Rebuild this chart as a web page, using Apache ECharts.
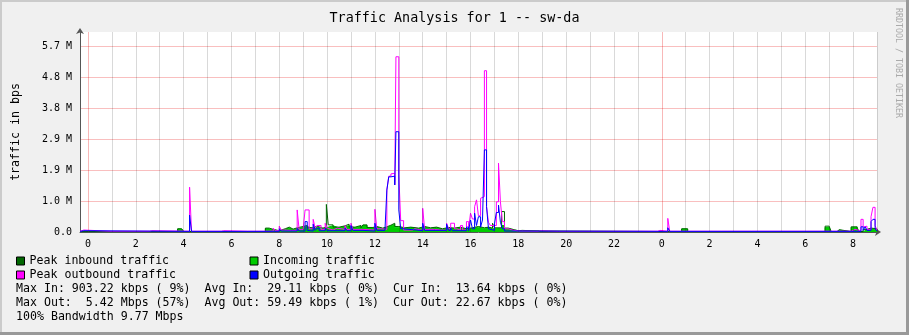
<!DOCTYPE html>
<html><head><meta charset="utf-8">
<script src="https://cdn.jsdelivr.net/npm/echarts@6/dist/echarts.min.js"></script>
<style>html,body{margin:0;padding:0;background:#f0f0f0;overflow:hidden}#c{width:909px;height:335px}</style>
</head><body><div id="c"></div>
<script>
// ---------- text ----------
const titleText = 'Traffic Analysis for 1 -- sw-da';
const yAxisTitle = 'traffic in bps';
const watermark = 'RRDTOOL / TOBI OETIKER';
const legendNames = ['Peak inbound traffic', 'Incoming traffic', 'Peak outbound traffic', 'Outgoing traffic'];
const statLines = [
  'Max In: 903.22 kbps ( 9%)  Avg In:  29.11 kbps ( 0%)  Cur In:  13.64 kbps ( 0%)',
  'Max Out:  5.42 Mbps (57%)  Avg Out: 59.49 kbps ( 1%)  Cur Out: 22.67 kbps ( 0%)',
  '100% Bandwidth 9.77 Mbps'
];
// ---------- axes ----------
const xStart = -1 / 3;          // hours
const xEnd = 33;
const xLabelHours = [0, 2, 4, 6, 8, 10, 12, 14, 16, 18, 20, 22, 24, 26, 28, 30, 32];
const gridHours = [0,1,2,3,4,5,6,7,8,9,10,11,12,13,14,15,16,17,18,19,20,21,22,23,24,25,26,27,28,29,30,31,32,33];
const majorHours = [0, 24];
const yStep = 0.953674;         // M bps
const yMax = 6.163;
// ---------- series (hour, Mbps) ----------
const incoming = [
 [-0.33,0.01],[3.75,0.09],[3.92,0.06],[4.0,0.01],
 [7.42,0.1],[7.58,0.07],[7.75,0.03],[8.0,0.08],[8.25,0.13],[8.42,0.07],[8.58,0.11],[8.75,0.14],[9.0,0.17],[9.17,0.11],[9.42,0.15],[9.58,0.1],[9.83,0.14],[10.0,0.19],[10.25,0.13],[10.5,0.17],[10.75,0.11],[10.83,0.19],[10.92,0.13],[11.17,0.18],[11.42,0.11],[11.5,0.2],[11.67,0.12],[11.92,0.15],[12.08,0.1],[12.33,0.14],[12.5,0.19],[12.67,0.24],[12.83,0.15],[13.0,0.11],[13.25,0.14],[13.5,0.1],[13.83,0.15],[14.08,0.11],[14.33,0.14],[14.58,0.08],[14.83,0.12],[15.08,0.1],[15.33,0.14],[15.58,0.08],[15.83,0.11],[16.08,0.15],[16.33,0.11],[16.58,0.14],[16.75,0.1],[16.92,0.16],[17.0,0.11],[17.3,0.2],[17.42,0.1],[17.58,0.06],[17.83,0.03],[18.0,0.04],[18.17,0.01],
 [24.83,0.09],[25.08,0.01],
 [30.83,0.14],[31.0,0.09],[31.08,0.01],
 [31.33,0.06],[31.42,0.01],
 [31.92,0.14],[32.17,0.08],[32.25,0.01],
 [32.42,0.07],[32.58,0.1],[32.75,0.05],[32.83,0.08],[33,0.02]
];
const peakIn = [
 [-0.33,0.015],[3.75,0.1],[3.92,0.07],[4.0,0.015],
 [7.42,0.12],[7.58,0.08],[7.75,0.04],[8.0,0.1],[8.25,0.15],[8.42,0.09],[8.58,0.13],[8.75,0.17],[9.0,0.2],[9.17,0.13],[9.42,0.18],[9.58,0.12],[9.83,0.16],[9.97,0.85],[10.05,0.22],[10.25,0.15],[10.5,0.19],[10.75,0.13],[10.83,0.24],[10.92,0.15],[11.17,0.2],[11.42,0.13],[11.5,0.22],[11.67,0.14],[11.92,0.17],[12.08,0.12],[12.33,0.16],[12.5,0.21],[12.67,0.27],[12.83,0.17],[13.0,0.13],[13.25,0.15],[13.5,0.12],[13.83,0.17],[14.08,0.13],[14.33,0.15],[14.58,0.1],[14.83,0.14],[15.08,0.12],[15.33,0.15],[15.58,0.1],[15.83,0.13],[16.08,0.17],[16.33,0.13],[16.58,0.15],[16.75,0.12],[16.92,0.27],[17.0,0.13],[17.3,0.63],[17.42,0.12],[17.58,0.07],[17.83,0.04],[18.0,0.05],[18.17,0.015],
 [19.25,0.05],[19.33,0.015],
 [21.0,0.03],[21.08,0.015],
 [24.83,0.1],[25.08,0.015],
 [26.5,0.03],[26.58,0.015],
 [28.5,0.03],[28.58,0.015],
 [29.42,0.04],[29.5,0.015],
 [30.83,0.18],[31.0,0.12],[31.08,0.015],
 [31.33,0.07],[31.42,0.015],
 [31.92,0.16],[32.17,0.09],[32.25,0.015],
 [32.42,0.08],[32.58,0.12],[32.75,0.06],[32.83,0.1],[33,0.03]
];
const peakOut = [
 [-0.33,0.025],[-0.25,0.06],[-0.17,0.025],
 [0.92,0.07],[1.0,0.025],
 [2.58,0.04],[2.67,0.025],
 [4.25,1.38],[4.33,0.025],
 [5.58,0.04],[5.67,0.025],
 [6.67,0.04],[6.75,0.025],
 [7.5,0.05],[7.58,0.03],
 [7.75,0.12],[7.83,0.04],
 [8.0,0.18],[8.08,0.06],[8.17,0.1],[8.25,0.05],
 [8.5,0.08],[8.58,0.05],
 [8.75,0.68],[8.83,0.08],
 [9.0,0.1],[9.08,0.68],[9.25,0.1],
 [9.42,0.39],[9.5,0.12],[9.58,0.2],[9.75,0.08],
 [9.92,0.27],[10.0,0.12],[10.08,0.06],
 [10.25,0.12],[10.42,0.08],
 [10.75,0.2],[10.83,0.08],
 [11.0,0.27],[11.08,0.08],
 [11.5,0.12],[11.58,0.06],
 [12.0,0.7],[12.08,0.1],
 [12.25,0.15],[12.33,0.08],
 [12.5,1.3],[12.58,1.72],[12.67,1.79],[12.75,1.81],[12.83,1.45],
 [12.88,5.40],[13.0,1.76],[13.08,0.35],[13.2,0.06],
 [13.58,0.1],[13.67,0.05],
 [14.0,0.73],[14.08,0.08],
 [14.5,0.06],[14.75,0.1],[14.83,0.05],
 [15.0,0.27],[15.08,0.1],[15.17,0.27],[15.33,0.1],[15.42,0.06],
 [15.58,0.2],[15.67,0.06],
 [15.83,0.32],[15.92,0.1],
 [16.0,0.58],[16.08,0.4],[16.17,0.78],[16.25,0.99],[16.33,0.5],[16.42,1.04],[16.5,1.09],[16.58,4.97],[16.67,0.78],[16.75,0.3],[16.83,0.2],
 [17.08,0.93],[17.17,2.12],[17.25,0.93],[17.33,0.32],[17.42,0.1],[17.58,0.06],[17.75,0.03],
 [18.0,0.05],[18.08,0.025],
 [18.83,0.04],[18.92,0.025],
 [19.67,0.04],[19.75,0.025],
 [20.5,0.04],[20.58,0.025],
 [21.5,0.04],[21.58,0.025],
 [23.83,0.05],[23.92,0.025],
 [24.25,0.42],[24.33,0.025],
 [24.75,0.04],[24.83,0.025],
 [25.67,0.04],[25.75,0.025],
 [26.5,0.04],[26.58,0.025],
 [27.75,0.04],[27.83,0.025],
 [29.0,0.04],[29.08,0.025],
 [30.0,0.04],[30.08,0.025],
 [31.0,0.05],[31.08,0.025],
 [31.92,0.08],[32.08,0.04],
 [32.33,0.39],[32.42,0.15],[32.5,0.18],[32.58,0.08],[32.75,0.47],[32.83,0.76],[32.92,0.2],[33,0.05]
];
const outgoing = [
 [-0.33,0.02],[-0.25,0.04],[-0.17,0.02],
 [4.25,0.52],[4.33,0.02],
 [7.75,0.05],[7.83,0.02],[8.0,0.1],[8.08,0.03],[8.17,0.06],[8.25,0.03],
 [8.75,0.11],[8.83,0.03],[9.08,0.32],[9.17,0.05],[9.25,0.03],
 [9.42,0.24],[9.5,0.05],[9.58,0.12],[9.67,0.04],
 [9.92,0.12],[10.0,0.04],
 [10.75,0.12],[10.83,0.04],[11.0,0.2],[11.08,0.05],[11.5,0.08],[11.58,0.03],
 [12.0,0.27],[12.08,0.05],
 [12.42,0.1],[12.5,1.29],[12.58,1.7],[12.67,1.75],[12.75,1.72],[12.83,1.45],[12.88,3.09],[13.0,0.68],[13.08,0.1],[13.17,0.04],
 [14.0,0.27],[14.08,0.05],
 [15.0,0.24],[15.08,0.05],[15.17,0.12],[15.25,0.04],
 [15.83,0.15],[15.92,0.04],
 [16.0,0.37],[16.08,0.1],[16.17,0.58],[16.25,0.2],[16.33,0.47],[16.42,0.15],[16.5,0.37],[16.58,2.53],[16.67,0.78],[16.75,0.1],[16.83,0.05],
 [17.0,0.25],[17.08,0.6],[17.17,0.83],[17.25,0.3],[17.33,0.1],[17.42,0.03],
 [17.67,0.05],[17.75,0.02],
 [24.25,0.13],[24.33,0.02],
 [32.33,0.16],[32.42,0.05],[32.5,0.16],[32.58,0.05],[32.75,0.32],[32.83,0.39],[32.92,0.1],[33,0.03]
];

const MONO = 'DejaVu Sans Mono';
const chart = echarts.init(document.getElementById('c'), null, {renderer: 'canvas'});

function lineSeries(name, data, color, z, area) {
  return {
    name, type: 'line', data, step: 'end', symbol: 'none', z, color,
    lineStyle: {color, width: 1}, areaStyle: area ? {color, opacity: 1} : undefined,
    animation: false, silent: true
  };
}

chart.setOption({
  backgroundColor: '#f0f0f0',
  animation: false,
  title: {text: titleText, left: 'center', top: 7,
    textStyle: {fontFamily: MONO, fontSize: 13.4, fontWeight: 'normal', color: '#000'}},
  grid: {left: 80, right: 32, top: 32, bottom: 103, show: true, backgroundColor: '#fff', borderWidth: 0},
  legend: {
    data: legendNames, left: 16, top: 254, width: 480, padding: 0, itemGap: 0,
    itemWidth: 8, itemHeight: 8, icon: 'rect', selectedMode: false,
    itemStyle: {borderColor: '#000', borderWidth: 1},
    textStyle: {fontFamily: MONO, fontSize: 11.6, color: '#000', width: 220, lineHeight: 14}
  },
  xAxis: {
    type: 'value', min: xStart, max: xEnd,
    axisLine: {show: true, onZero: false, lineStyle: {color: '#555', width: 1}, symbol: ['none', 'arrow'], symbolSize: [6, 6], symbolOffset: [0, 4]},
    axisTick: {show: false},
    splitLine: {show: false},
    axisLabel: {customValues: xLabelHours, formatter: v => String(Math.round(v) % 24), margin: 7,
      fontFamily: MONO, fontSize: 10, color: '#000'}
  },
  yAxis: {
    type: 'value', min: 0, max: yMax, interval: yStep,
    axisLine: {show: true, onZero: false, lineStyle: {color: '#555', width: 1}, symbol: ['none', 'arrow'], symbolSize: [6, 6], symbolOffset: [0, 4]},
    axisTick: {show: false},
    splitLine: {show: true, showMaxLine: false, showMinLine: false, lineStyle: {color: 'rgba(230,0,0,0.25)', width: 1}},
    axisLabel: {showMaxLabel: false, margin: 8, fontFamily: MONO, fontSize: 10, color: '#000',
      formatter: v => v === 0 ? '0.0' : v.toFixed(1) + ' M'}
  },
  series: [
    {
      name: 'hour grid', type: 'line', data: [], z: 1, silent: true, animation: false,
      markLine: {
        silent: true, animation: false, symbol: ['none', 'none'], label: {show: false},
        data: gridHours.map(h => ({xAxis: h, lineStyle: {type: 'solid', width: 1,
          color: majorHours.includes(h) ? 'rgba(230,0,0,0.28)' : 'rgba(0,0,0,0.15)'}}))
      }
    },
    lineSeries(legendNames[1], incoming, '#00cc00', 2, true),
    lineSeries(legendNames[0], peakIn, '#006600', 3, false),
    lineSeries(legendNames[2], peakOut, '#ff00ff', 4, false),
    lineSeries(legendNames[3], outgoing, '#0000ff', 5, false)
  ],
  graphic: [
    {type: 'rect', left: 0, top: 0, shape: {width: 909, height: 2}, style: {fill: '#cbcbcb'}, silent: true},
    {type: 'rect', left: 0, top: 0, shape: {width: 2, height: 335}, style: {fill: '#cbcbcb'}, silent: true},
    {type: 'rect', left: 0, top: 332, shape: {width: 909, height: 3}, style: {fill: '#999'}, silent: true},
    {type: 'rect', left: 906, top: 0, shape: {width: 3, height: 335}, style: {fill: '#999'}, silent: true},
    {type: 'text', x: 16, y: 132, rotation: Math.PI / 2, silent: true,
      style: {text: yAxisTitle, fontFamily: MONO, fontSize: 11.6, fill: '#000', align: 'center', verticalAlign: 'middle'}},
    {type: 'text', x: 898, y: 63, rotation: -Math.PI / 2, silent: true,
      style: {text: watermark, fontFamily: MONO, fontSize: 8.3, fill: '#aaa', align: 'center', verticalAlign: 'middle'}},
    {type: 'text', x: 16, y: 282, silent: true,
      style: {text: statLines.join('\n'), fontFamily: MONO, fontSize: 11.6, lineHeight: 14, fill: '#000', align: 'left', verticalAlign: 'top'}}
  ]
});
</script>
</body></html>
